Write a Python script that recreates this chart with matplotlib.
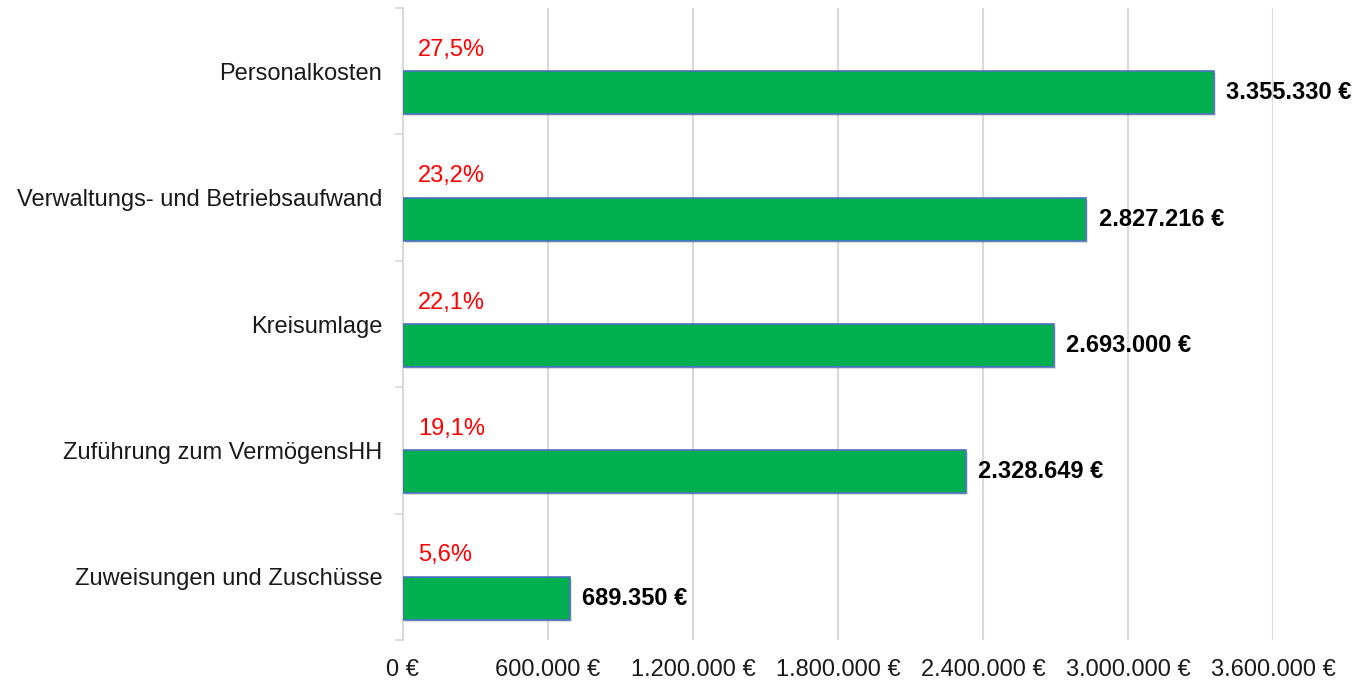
import numpy as np
import matplotlib.pyplot as plt
import matplotlib.patheffects as pe
from matplotlib.ticker import FuncFormatter, FixedLocator

plt.rcParams['font.family'] = ['Liberation Sans', 'DejaVu Sans']

# data
categories = ["Personalkosten", "Verwaltungs- und Betriebsaufwand", "Kreisumlage",
              "Zuführung zum VermögensHH", "Zuweisungen und Zuschüsse"]
values = [3355330, 2827216, 2693000, 2328649, 689350]
shares = ["27,5%", "23,2%", "22,1%", "19,1%", "5,6%"]
xticks = [0, 600000, 1200000, 1800000, 2400000, 3000000, 3600000]


def euro(v, pos=None):
    return f"{int(round(v)):,}".replace(",", ".") + " €"


fig = plt.figure(figsize=(13.68, 6.82), dpi=100)
ax = fig.add_axes([403 / 1368, 1 - 640 / 682, (1273 - 403) / 1368, (640 - 8) / 682])

y = np.arange(len(categories))
off = 0.17
bars = ax.barh(y + off, values, height=0.34, color="#00B050", edgecolor="#4F6FC0",
               linewidth=1.2, zorder=3)
for b in bars:
    b.set_path_effects([pe.SimplePatchShadow(offset=(1.5, -1.5), alpha=0.15), pe.Normal()])

for i, (v, s) in enumerate(zip(values, shares)):
    ax.annotate(euro(v), (v, i + off), xytext=(9, 0), textcoords="offset points",
                ha="left", va="center", fontsize=17, fontweight="bold", color="black",
                annotation_clip=False)
    ax.annotate(s, (0, i - off), xytext=(11, 0), textcoords="offset points",
                ha="left", va="center", fontsize=17, color="#FF0000")

ax.set_xlim(0, 3600000)
ax.set_ylim(len(categories) - 0.5, -0.5)
ax.xaxis.set_major_locator(FixedLocator(xticks))
ax.xaxis.set_major_formatter(FuncFormatter(euro))
ax.grid(axis="x", color="#D9D9D9", linewidth=1.5, zorder=0)
ax.set_axisbelow(True)

ax.set_yticks(y)
ax.set_yticklabels(categories)
ax.set_yticks(np.arange(len(categories) + 1) - 0.5, minor=True)
ax.tick_params(axis="y", which="major", length=0, pad=15, labelsize=17, labelcolor="#1a1a1a")
ax.tick_params(axis="y", which="minor", length=6, color="#D9D9D9", width=1.2)
ax.tick_params(axis="x", length=0, pad=14, labelsize=17, labelcolor="#1a1a1a")

for side in ["top", "right", "bottom"]:
    ax.spines[side].set_visible(False)
ax.spines["left"].set_color("#D9D9D9")
ax.spines["left"].set_linewidth(1.5)

fig.savefig("out.png", dpi=100)
